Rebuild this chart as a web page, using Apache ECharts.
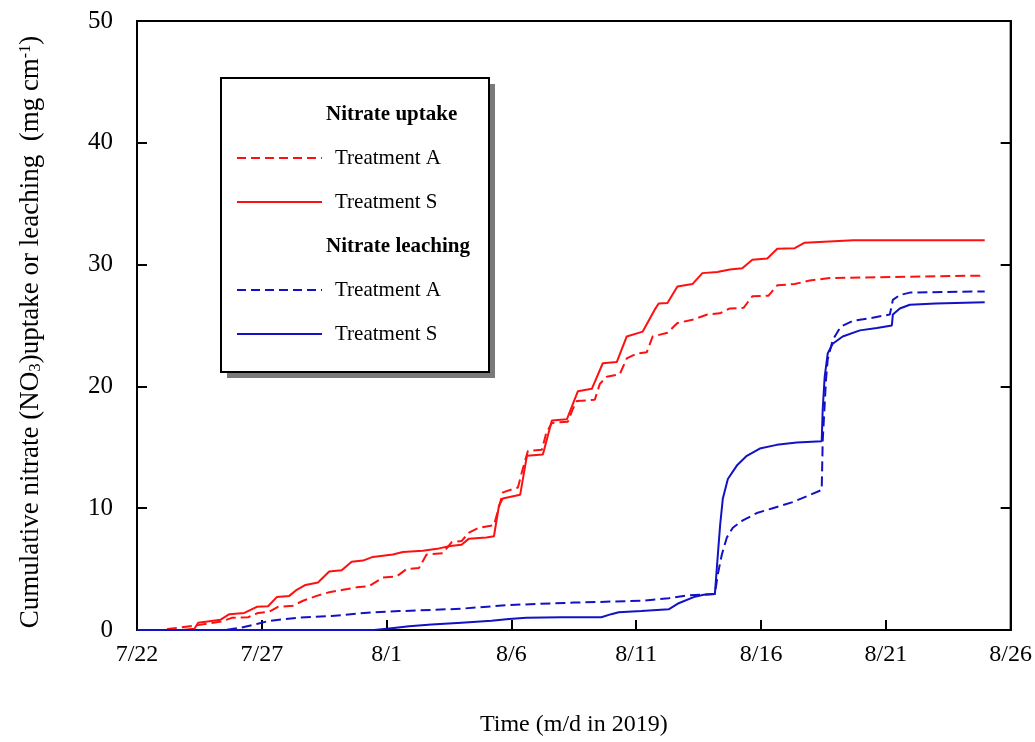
<!DOCTYPE html>
<html>
<head>
<meta charset="utf-8">
<script src="https://cdn.jsdelivr.net/npm/echarts@6/dist/echarts.min.js"></script>
<style>
  html, body { margin: 0; padding: 0; background: #fff; }
  #chart { width: 1035px; height: 742px; }
</style>
</head>
<body>
<div id="chart"></div>
<script>
// Tick labels for the time axis (one every 5 days from 7/22)
const dayLabels = ['7/22', '7/27', '8/1', '8/6', '8/11', '8/16', '8/21', '8/26'];
const yTicks = [0, 10, 20, 30, 40, 50];

// Cumulative nitrate, [days since 7/22, mg cm-1]
const uptakeA = [
  [0, 0], [1.0, 0], [1.3, 0.1], [2.3, 0.35], [3.4, 0.7], [3.8, 1.0], [4.45, 1.05], [4.85, 1.4],
  [5.3, 1.5], [5.65, 1.9], [6.25, 2.0], [6.65, 2.4], [7.2, 2.8], [7.7, 3.1], [8.25, 3.3],
  [8.8, 3.5], [9.3, 3.6], [9.85, 4.3], [10.4, 4.4], [10.8, 5.0], [11.3, 5.1], [11.6, 6.2],
  [12.25, 6.3], [12.6, 7.2], [13.0, 7.3], [13.3, 8.0], [13.7, 8.4], [14.3, 8.6], [14.66, 11.3],
  [15.26, 11.7], [15.45, 13.2], [15.66, 14.7], [16.22, 14.8], [16.4, 16.2], [16.62, 17.0],
  [17.26, 17.1], [17.45, 18.1], [17.62, 18.8], [18.34, 18.9], [18.54, 20.2], [18.82, 20.8],
  [19.34, 21.0], [19.62, 22.3], [20.02, 22.7], [20.42, 22.8], [20.66, 24.1], [21.25, 24.4],
  [21.65, 25.2], [22.3, 25.5], [22.85, 25.9], [23.35, 26.0], [23.75, 26.4], [24.3, 26.45],
  [24.65, 27.4], [25.3, 27.45], [25.65, 28.3], [26.35, 28.4], [26.95, 28.7], [27.75, 28.9],
  [33.96, 29.1]
];
const uptakeS = [
  [0, 0], [1.8, 0], [2.3, 0.1], [2.45, 0.6], [3.35, 0.85], [3.7, 1.3], [4.3, 1.4], [4.8, 1.9],
  [5.25, 1.95], [5.6, 2.7], [6.1, 2.8], [6.4, 3.3], [6.75, 3.7], [7.25, 3.9], [7.7, 4.8],
  [8.2, 4.9], [8.6, 5.6], [9.05, 5.7], [9.45, 6.0], [10.25, 6.2], [10.65, 6.4], [11.45, 6.5],
  [12.1, 6.7], [12.55, 6.9], [13.0, 7.0], [13.3, 7.5], [14.0, 7.6], [14.3, 7.7], [14.5, 10.2],
  [14.65, 10.8], [15.35, 11.1], [15.62, 14.3], [16.26, 14.4], [16.62, 17.2], [17.22, 17.3],
  [17.66, 19.6], [18.22, 19.8], [18.66, 21.9], [19.22, 22.0], [19.62, 24.1], [20.26, 24.5],
  [20.74, 26.3], [20.9, 26.8], [21.25, 26.85], [21.65, 28.2], [22.25, 28.4], [22.65, 29.3],
  [23.25, 29.4], [23.75, 29.6], [24.25, 29.7], [24.65, 30.4], [25.25, 30.5], [25.65, 31.3],
  [26.35, 31.35], [26.75, 31.8], [28.7, 32.0], [33.96, 32.0]
];
const leachingA = [
  [0, 0], [3.5, 0], [4.2, 0.2], [4.8, 0.5], [5.3, 0.75], [6.4, 1.0], [7.8, 1.15], [9.1, 1.4],
  [10.5, 1.55], [11.8, 1.65], [13.0, 1.75], [14.9, 2.05], [17.5, 2.25], [20.2, 2.4], [21.3, 2.6],
  [22.1, 2.85], [23.15, 2.95], [23.27, 4.6], [23.43, 6.2], [23.63, 7.6], [23.87, 8.4],
  [24.27, 9.0], [24.83, 9.6], [25.47, 10.0], [26.27, 10.5], [27.43, 11.5], [27.47, 15.5],
  [27.6, 20.5], [27.67, 22.2], [27.87, 23.8], [28.19, 24.9], [28.7, 25.4], [29.36, 25.6],
  [30.16, 25.9], [30.28, 27.1], [30.56, 27.5], [30.96, 27.7], [33.96, 27.8]
];
const leachingS = [
  [0, 0], [9.5, 0], [10.2, 0.15], [10.9, 0.3], [11.8, 0.45], [13.0, 0.6], [14.2, 0.75],
  [14.9, 0.9], [15.6, 1.0], [17.0, 1.05], [18.6, 1.05], [19.0, 1.3], [19.3, 1.45], [20.2, 1.55],
  [21.3, 1.7], [21.7, 2.2], [22.3, 2.7], [22.7, 2.9], [23.15, 2.95], [23.24, 5.4], [23.36, 8.6],
  [23.47, 10.8], [23.67, 12.4], [24.03, 13.5], [24.43, 14.3], [24.95, 14.9], [25.63, 15.2],
  [26.43, 15.4], [27.43, 15.5], [27.47, 18.1], [27.55, 20.8], [27.67, 22.7], [27.87, 23.5],
  [28.27, 24.1], [28.96, 24.6], [29.64, 24.8], [30.24, 25.0], [30.28, 25.9], [30.56, 26.4],
  [30.96, 26.7], [32.0, 26.8], [33.96, 26.9]
];

const RED = '#ff1010';
const BLUE = '#1212c4';
const DASH = [10, 5];
const FONT = '"Liberation Serif", "Times New Roman", serif';

const chart = echarts.init(document.getElementById('chart'), null, { renderer: 'canvas' });

function line(name, data, color, dashed) {
  return {
    name, type: 'line', data,
    showSymbol: false, symbol: 'none',
    lineStyle: { color, width: 2, type: dashed ? DASH : 'solid' },
    animation: false, z: 3
  };
}

// Legend drawn as a framed box with two groups of entries
const lx = 221, ly = 78, lw = 268, lh = 294;
const legendRows = [
  { y: 115, head: 'Nitrate uptake' },
  { y: 158, text: 'Treatment A', color: RED, dashed: true },
  { y: 202, text: 'Treatment S', color: RED, dashed: false },
  { y: 247, head: 'Nitrate leaching' },
  { y: 290, text: 'Treatment A', color: BLUE, dashed: true },
  { y: 334, text: 'Treatment S', color: BLUE, dashed: false }
];
const legendEls = [
  { type: 'rect', shape: { x: lx + 6, y: ly + 6, width: lw, height: lh },
    style: { fill: '#7a7a7a' }, z: 10 },
  { type: 'rect', shape: { x: lx, y: ly, width: lw, height: lh },
    style: { fill: '#fff', stroke: '#000', lineWidth: 2 }, z: 11 }
];
legendRows.forEach(r => {
  if (r.head) {
    legendEls.push({ type: 'text', x: 326, y: r.y, z: 12,
      style: { text: r.head, font: 'bold 21px ' + FONT, fill: '#000', verticalAlign: 'middle' } });
  } else {
    legendEls.push({ type: 'line', z: 12,
      shape: { x1: 237, y1: r.y, x2: 322, y2: r.y },
      style: { stroke: r.color, lineWidth: 2, lineDash: r.dashed ? [9, 5] : null } });
    legendEls.push({ type: 'text', x: 335, y: r.y, z: 12,
      style: { text: r.text, font: '21px ' + FONT, fill: '#000', verticalAlign: 'middle' } });
  }
});

// Rotated y-axis title with subscript/superscript parts
legendEls.push({
  type: 'text', x: 31, y: 332, rotation: Math.PI / 2, z: 12,
  style: {
    text: '{a|Cumulative nitrate (NO}{s|3}{a|)uptake or leaching  (mg cm}{p|-1}{a|)}',
    align: 'center', verticalAlign: 'middle',
    rich: {
      a: { fontSize: 27, fontFamily: FONT, fill: '#000', lineHeight: 32, verticalAlign: 'middle' },
      s: { fontSize: 17, fontFamily: FONT, fill: '#000', lineHeight: 32, verticalAlign: 'bottom', padding: [0, 0, 3, 0] },
      p: { fontSize: 16, fontFamily: FONT, fill: '#000', lineHeight: 32, verticalAlign: 'top', padding: [3, 0, 0, 0] }
    }
  }
});

const axisCommon = {
  min: 0, axisLine: { show: true, lineStyle: { color: '#000', width: 2 } },
  axisTick: { show: true, inside: true, length: 10, lineStyle: { color: '#000', width: 2 } },
  splitLine: { show: false }
};

chart.setOption({
  backgroundColor: '#fff',
  animation: false,
  grid: { left: 137, right: 24, top: 21, bottom: 106, show: true, borderColor: '#000', borderWidth: 2, backgroundColor: 'transparent' },
  xAxis: [{
    ...axisCommon, type: 'value', max: 35, interval: 5, position: 'bottom',
    axisLabel: { formatter: v => dayLabels[Math.round(v / 5)], fontSize: 24, fontFamily: FONT, color: '#000', margin: 13 },
    name: 'Time (m/d in 2019)', nameLocation: 'middle', nameGap: 83,
    nameTextStyle: { fontSize: 24, fontFamily: FONT, color: '#000' }
  }],
  yAxis: [{
    ...axisCommon, type: 'value', max: 50, interval: 10, position: 'left',
    axisLabel: { formatter: v => (yTicks.includes(v) ? String(v) : ''), fontSize: 25, fontFamily: FONT, color: '#000', margin: 24 }
  }, {
    ...axisCommon, type: 'value', max: 50, interval: 10, position: 'right',
    axisLabel: { show: false }
  }],
  series: [
    line('Nitrate uptake Treatment A', uptakeA, RED, true),
    line('Nitrate uptake Treatment S', uptakeS, RED, false),
    line('Nitrate leaching Treatment A', leachingA, BLUE, true),
    line('Nitrate leaching Treatment S', leachingS, BLUE, false)
  ],
  graphic: legendEls
});
</script>
</body>
</html>
